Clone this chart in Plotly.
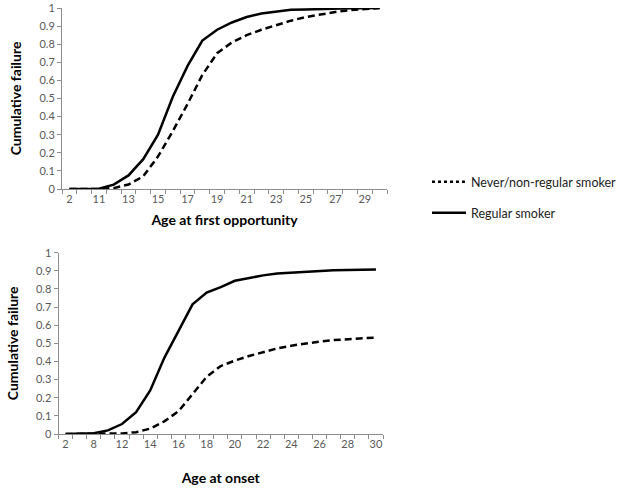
import plotly.graph_objects as go

# ---- data ----
top_ages = [2, 10, 11, 12, 13, 14, 15, 16, 17, 18, 19, 20, 21, 22, 23, 24, 25, 26, 27, 28, 29, 30]
top_regular = [0, 0, 0.002, 0.024, 0.075, 0.165, 0.30, 0.51, 0.68, 0.82, 0.88, 0.92, 0.95, 0.97,
               0.98, 0.99, 0.992, 0.995, 0.997, 0.998, 0.999, 1.0]
top_never = [0, 0, 0, 0.005, 0.025, 0.07, 0.18, 0.32, 0.47, 0.63, 0.75, 0.81, 0.85, 0.88,
             0.905, 0.93, 0.95, 0.965, 0.978, 0.988, 0.995, 1.0]

bot_ages = [2, 5, 8, 10, 12, 13, 14, 15, 16, 17, 18, 19, 20, 21, 22, 23, 24, 25, 26, 27, 28, 29, 30]
bot_regular = [0, 0, 0.004, 0.02, 0.055, 0.12, 0.24, 0.42, 0.57, 0.715, 0.78, 0.81, 0.845, 0.86,
               0.875, 0.885, 0.89, 0.897, 0.902, 0.903, 0.905, 0.907, 0.908]
bot_never = [0, 0, 0, 0, 0.003, 0.01, 0.03, 0.07, 0.125, 0.22, 0.315, 0.375, 0.405, 0.43,
             0.45, 0.472, 0.487, 0.50, 0.51, 0.518, 0.524, 0.527, 0.532]

legend_labels = ["Never/non-regular smoker", "Regular smoker"]
x_titles = ["Age at first opportunity", "Age at onset"]
y_title = "Cumulative failure"

W, H = 629, 488
FONT = "Lato, Calibri, 'Open Sans', sans-serif"
TICKC = "#595959"
AXC = "#8c8c8c"
DASH = "7px,4px"

fig = go.Figure()

def add_panel(ages, reg, nev, xa, ya):
    idx = list(range(len(ages)))
    fig.add_trace(go.Scatter(x=idx, y=nev, mode="lines", xaxis=xa, yaxis=ya,
                             line=dict(color="black", width=2.5, dash=DASH), showlegend=False))
    fig.add_trace(go.Scatter(x=idx, y=reg, mode="lines", xaxis=xa, yaxis=ya,
                             line=dict(color="black", width=2.5), showlegend=False))

add_panel(top_ages, top_regular, top_never, "x", "y")
add_panel(bot_ages, bot_regular, bot_never, "x2", "y2")

# legend-only traces
fig.add_trace(go.Scatter(x=[None], y=[None], mode="lines", name=legend_labels[0],
                         line=dict(color="black", width=2.5, dash="dot"), legend="legend"))
fig.add_trace(go.Scatter(x=[None], y=[None], mode="lines", name=legend_labels[1],
                         line=dict(color="black", width=2.5), legend="legend2"))

def xaxis(ages, dom, title, standoff, anchor):
    n = len(ages)
    tv = list(range(0, n, 2))
    return dict(domain=dom, range=[-0.5, n - 0.5], tickmode="array", tickvals=tv, anchor=anchor,
                ticktext=[str(ages[i]) for i in tv], ticks="", showline=True, linecolor=AXC,
                linewidth=1, showgrid=False, zeroline=False, automargin=False,
                tickfont=dict(size=11, color=TICKC, family=FONT),
                minor=dict(tickmode="array", tickvals=[i - 0.5 for i in range(n + 1)],
                           ticks="outside", ticklen=4, tickcolor=AXC, showgrid=False),
                title=dict(text="<b>" + title + "</b>", standoff=standoff,
                           font=dict(size=14, color="black", family=FONT)))

def yaxis(dom, anchor):
    return dict(domain=dom, range=[0, 1], dtick=0.1, tick0=0, ticks="outside", ticklen=4,
                tickcolor=AXC, showline=True, linecolor=AXC, linewidth=1, showgrid=False,
                zeroline=False, anchor=anchor, automargin=False,
                tickfont=dict(size=11, color=TICKC, family=FONT),
                title=dict(text="<b>" + y_title + "</b>", standoff=14,
                           font=dict(size=14, color="black", family=FONT)))

leg_common = dict(xanchor="left", yanchor="middle", bgcolor="rgba(0,0,0,0)", itemwidth=34,
                  font=dict(size=12.5, color="#222", family=FONT))

fig.update_layout(
    width=W, height=H, margin=dict(l=0, r=0, t=0, b=0, autoexpand=False),
    paper_bgcolor="white", plot_bgcolor="white",
    xaxis=xaxis(top_ages, [62 / W, 387 / W], x_titles[0], 10, "y"),
    yaxis=yaxis([(H - 189) / H, (H - 8) / H], "x"),
    xaxis2=xaxis(bot_ages, [58.5 / W, 383 / W], x_titles[1], 23, "y2"),
    yaxis2=yaxis([(H - 434) / H, (H - 252.7) / H], "x2"),
    legend=dict(x=427 / W, y=1 - 182 / H, **leg_common),
    legend2=dict(x=427 / W, y=1 - 213 / H, **leg_common),
)

fig.write_html("out.html", post_script="document.body.style.margin='0';",
               config={"displayModeBar": False})
